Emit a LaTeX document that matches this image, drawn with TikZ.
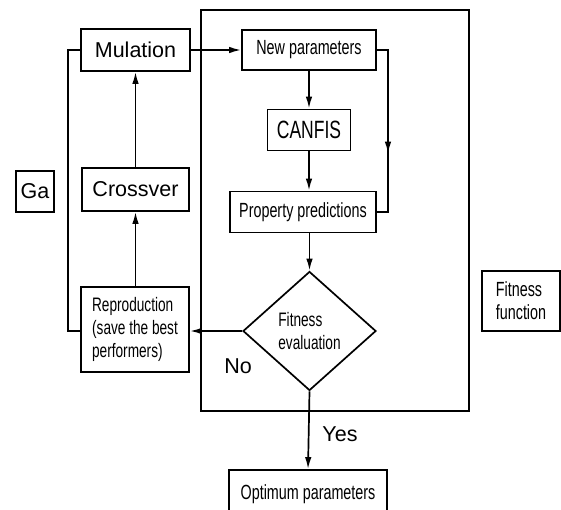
\documentclass[tikz,border=0pt]{standalone}
\usepackage{fontspec}
\setmainfont{Liberation Sans}
\newfontfamily\narrowfont[FakeStretch=0.7]{Liberation Sans}
\usetikzlibrary{arrows.meta,calc,shapes.geometric,positioning}

\tikzset{
  box/.style={draw, line width=1.7pt, inner sep=0pt},
  wide/.style={font=\fontsize{21.5}{24}\selectfont},
  narrow/.style={font=\narrowfont\fontsize{20.5}{23}\selectfont},
  flow/.style={line width=1.7pt, -{Latex[length=12pt,width=6.5pt]}},
  plain/.style={line width=1.7pt}
}

\begin{document}
\begin{tikzpicture}[x=1pt,y=-1pt]
\useasboundingbox (0,0) rectangle (561,509);
% frame of the fitness function
\draw[plain] (201,10) rectangle (469,411);
% GA side
\node[box,wide,minimum width=109pt,minimum height=42pt] (mul) at (135.5,50) {Mulation};
\node[box,wide,minimum width=107pt,minimum height=43pt] (cross) at (135.5,189.5) {Crossver};
\node[box,wide,minimum width=38pt,minimum height=41pt] (ga) at (35,191.5) {Ga};
\node[box,narrow,font=\narrowfont\fontsize{19.5}{23}\selectfont,align=left,
      minimum width=108pt,minimum height=85pt] (repro) at (135,329.5)
      {Reproduction\\(save the best\\performers)};
% fitness side
\node[box,narrow,minimum width=134pt,minimum height=40pt] (newp) at (309,50) {New parameters};
\node[box,narrow,font=\narrowfont\fontsize{25}{28}\selectfont,
      minimum width=83pt,minimum height=41pt] (canfis) at (309,130) {CANFIS};
\node[box,narrow,minimum width=146pt,minimum height=41pt] (prop) at (303,212) {Property predictions};
\node[box,diamond,narrow,font=\narrowfont\fontsize{19.5}{23}\selectfont,align=left,
      minimum width=133pt,minimum height=119pt] (fit) at (309.5,331) {Fitness\\evaluation};
\node[box,narrow,minimum width=158pt,minimum height=48pt] (opt) at (308,494) {Optimum parameters};
\node[box,narrow,align=left,minimum width=78pt,minimum height=60pt] (fitfn) at (521,301) {Fitness\\function};
% connectors
\coordinate (sideT) at (388,50);
\coordinate (sideB) at (388,212);
\draw[flow] (mul) -- (newp);
\draw[flow] (newp) -- (canfis);
\draw[flow] (canfis) -- (prop.north -| canfis);
\draw[flow] (prop.south -| fit) -- (fit);
\draw[flow] (newp.east) -- (sideT) -- ($(sideT)!0.64!(sideB)$);
\draw[plain] ($(sideT)!0.6!(sideB)$) -- (sideB) -- (prop.east);
\draw[flow] (fit.west) -- (fit.west -| repro.east);
\draw[flow] (repro.north -| cross) -- (cross);
\draw[flow] (cross) -- (mul);
\draw[plain] (repro.west |- fit.west) -- ++(-12,0) |- (mul.west);
\draw[flow] (fit.south) -- (opt.north);
\node[wide] (no) at (238,366) {No};
\node[wide] (yes) at (340,434) {Yes};
\end{tikzpicture}
\end{document}
